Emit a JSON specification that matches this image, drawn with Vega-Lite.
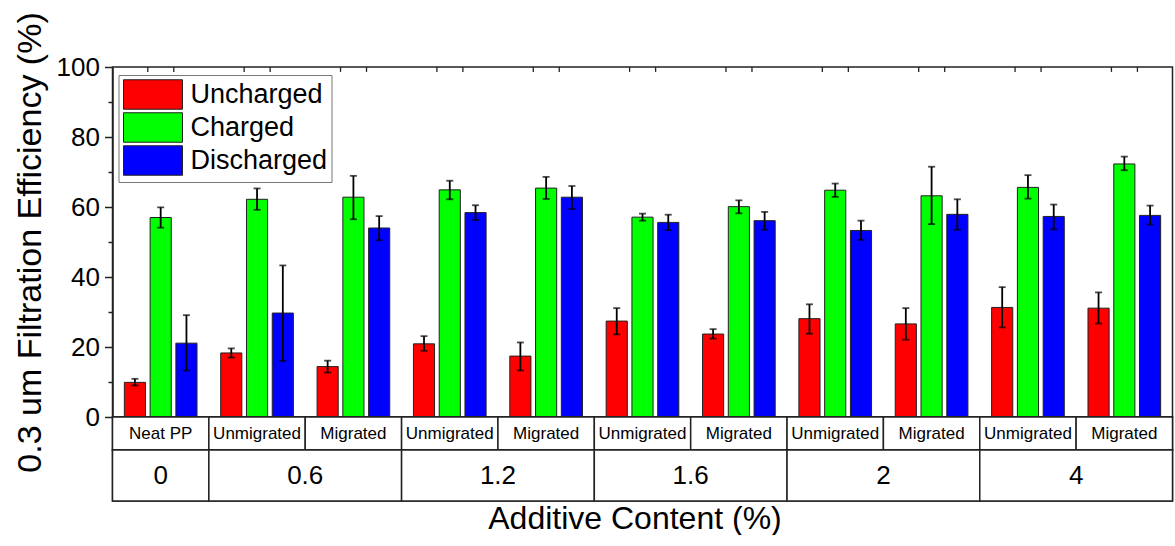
{
  "$schema": "https://vega.github.io/schema/vega-lite/v6.json",
  "autosize": {"type": "pad"},
  "padding": {"left": 11.5, "top": 11, "right": 3, "bottom": 0},
  "background": "white",
  "spacing": 0,
  "bounds": "flush",
  "datasets": {
    "bars": [
      {"g": 1, "series": "Uncharged", "value": 9.9, "lo": 9.0, "hi": 10.9},
      {"g": 1, "series": "Charged", "value": 57.0, "lo": 54.1, "hi": 59.9},
      {"g": 1, "series": "Discharged", "value": 21.1, "lo": 13.3, "hi": 29.1},
      {"g": 2, "series": "Uncharged", "value": 18.3, "lo": 17.0, "hi": 19.6},
      {"g": 2, "series": "Charged", "value": 62.2, "lo": 59.2, "hi": 65.3},
      {"g": 2, "series": "Discharged", "value": 29.7, "lo": 16.0, "hi": 43.3},
      {"g": 3, "series": "Uncharged", "value": 14.4, "lo": 12.7, "hi": 16.1},
      {"g": 3, "series": "Charged", "value": 62.8, "lo": 56.5, "hi": 68.9},
      {"g": 3, "series": "Discharged", "value": 54.0, "lo": 50.5, "hi": 57.4},
      {"g": 4, "series": "Uncharged", "value": 20.9, "lo": 18.9, "hi": 23.1},
      {"g": 4, "series": "Charged", "value": 64.9, "lo": 62.2, "hi": 67.5},
      {"g": 4, "series": "Discharged", "value": 58.4, "lo": 56.3, "hi": 60.5},
      {"g": 5, "series": "Uncharged", "value": 17.4, "lo": 13.3, "hi": 21.3},
      {"g": 5, "series": "Charged", "value": 65.4, "lo": 62.3, "hi": 68.6},
      {"g": 5, "series": "Discharged", "value": 62.8, "lo": 59.4, "hi": 66.0},
      {"g": 6, "series": "Uncharged", "value": 27.4, "lo": 23.6, "hi": 31.1},
      {"g": 6, "series": "Charged", "value": 57.1, "lo": 56.1, "hi": 58.1},
      {"g": 6, "series": "Discharged", "value": 55.6, "lo": 53.4, "hi": 57.8},
      {"g": 7, "series": "Uncharged", "value": 23.7, "lo": 22.4, "hi": 25.1},
      {"g": 7, "series": "Charged", "value": 60.1, "lo": 58.2, "hi": 61.9},
      {"g": 7, "series": "Discharged", "value": 56.1, "lo": 53.5, "hi": 58.6},
      {"g": 8, "series": "Uncharged", "value": 28.1, "lo": 23.8, "hi": 32.2},
      {"g": 8, "series": "Charged", "value": 64.8, "lo": 62.9, "hi": 66.7},
      {"g": 8, "series": "Discharged", "value": 53.3, "lo": 50.6, "hi": 56.1},
      {"g": 9, "series": "Uncharged", "value": 26.6, "lo": 22.1, "hi": 31.1},
      {"g": 9, "series": "Charged", "value": 63.2, "lo": 55.1, "hi": 71.5},
      {"g": 9, "series": "Discharged", "value": 57.9, "lo": 53.5, "hi": 62.2},
      {"g": 10, "series": "Uncharged", "value": 31.3, "lo": 25.6, "hi": 37.1},
      {"g": 10, "series": "Charged", "value": 65.6, "lo": 62.4, "hi": 69.1},
      {"g": 10, "series": "Discharged", "value": 57.3, "lo": 53.6, "hi": 60.7},
      {"g": 11, "series": "Uncharged", "value": 31.1, "lo": 26.7, "hi": 35.6},
      {"g": 11, "series": "Charged", "value": 72.3, "lo": 70.5, "hi": 74.4},
      {"g": 11, "series": "Discharged", "value": 57.6, "lo": 55.0, "hi": 60.4}
    ],
    "groups": [
      {"g": 1, "sub": "Neat PP"},
      {"g": 2, "sub": "Unmigrated"},
      {"g": 3, "sub": "Migrated"},
      {"g": 4, "sub": "Unmigrated"},
      {"g": 5, "sub": "Migrated"},
      {"g": 6, "sub": "Unmigrated"},
      {"g": 7, "sub": "Migrated"},
      {"g": 8, "sub": "Unmigrated"},
      {"g": 9, "sub": "Migrated"},
      {"g": 10, "sub": "Unmigrated"},
      {"g": 11, "sub": "Migrated"}
    ],
    "contents": [
      {"content": "0", "start": 0, "end": 1, "mid": 0.5},
      {"content": "0.6", "start": 1, "end": 3, "mid": 2},
      {"content": "1.2", "start": 3, "end": 5, "mid": 4},
      {"content": "1.6", "start": 5, "end": 7, "mid": 6},
      {"content": "2", "start": 7, "end": 9, "mid": 8},
      {"content": "4", "start": 9, "end": 11, "mid": 10}
    ]
  },
  "vconcat": [
    {
      "width": 1060,
      "height": 350,
      "data": {"name": "bars"},
      "layer": [
        {
          "mark": {"type": "bar", "stroke": "#222222", "strokeWidth": 1},
          "encoding": {
            "x": {"field": "g", "type": "ordinal", "axis": null, "scale": {"paddingInner": 0, "paddingOuter": 0}},
            "xOffset": {"field": "series", "type": "nominal", "scale": {"domain": ["Uncharged", "Charged", "Discharged"], "paddingInner": 0.18, "paddingOuter": 0.46}},
            "y": {
              "field": "value", "type": "quantitative",
              "scale": {"domain": [0, 100], "nice": false},
              "axis": {
                "values": [0, 20, 40, 60, 80, 100],
                "orient": "left",
                "tickSize": 8, "tickWidth": 1.5, "domainWidth": 1.5,
                "labelFontSize": 26, "labelPadding": 5,
                "title": "0.3 um Filtration Efficiency (%)",
                "titleFontSize": 34, "titlePadding": 9
              }
            },
            "color": {
              "field": "series", "type": "nominal",
              "scale": {"domain": ["Uncharged", "Charged", "Discharged"], "range": ["#ff0000", "#00ff00", "#0000ff"]},
              "legend": {
                "orient": "none", "legendX": 6, "legendY": 8,
                "title": null,
                "symbolType": "M-2,-1H2V1H-2Z",
                "symbolSize": 870,
                "symbolStrokeColor": "#222222", "symbolStrokeWidth": 1,
                "symbolOffset": 15,
                "labelFontSize": 27, "labelOffset": 22, "labelLimit": 0,
                "labelColor": "black",
                "rowPadding": -2.5,
                "padding": 4,
                "strokeColor": "#777777",
                "fillColor": "white"
              }
            }
          }
        },
        {
          "mark": {"type": "rule", "strokeWidth": 1.8, "color": "black"},
          "encoding": {
            "x": {"field": "g", "type": "ordinal", "axis": null},
            "xOffset": {"field": "series", "type": "nominal"},
            "y": {
              "field": "lo", "type": "quantitative",
              "axis": {"orient": "left", "values": [10, 30, 50, 70, 90], "labels": false, "domain": false, "tickSize": 4.5, "tickWidth": 1.5, "title": null}
            },
            "y2": {"field": "hi"}
          }
        },
        {
          "mark": {"type": "tick", "size": 7, "thickness": 1.8, "color": "black", "orient": "horizontal"},
          "encoding": {
            "x": {"field": "g", "type": "ordinal", "axis": null},
            "xOffset": {"field": "series", "type": "nominal"},
            "y": {"field": "lo", "type": "quantitative", "axis": null}
          }
        },
        {
          "mark": {"type": "tick", "size": 7, "thickness": 1.8, "color": "black", "orient": "horizontal"},
          "encoding": {
            "x": {"field": "g", "type": "ordinal", "axis": null},
            "xOffset": {"field": "series", "type": "nominal"},
            "y": {"field": "hi", "type": "quantitative", "axis": null}
          }
        },
        {
          "data": {"name": "groups"},
          "mark": {"type": "rule", "strokeWidth": 1.3, "color": "#222222"},
          "encoding": {
            "x": {"field": "g", "type": "ordinal", "axis": null, "bandPosition": 0.3663},
            "y": {"datum": 100, "type": "quantitative", "axis": null},
            "y2": {"datum": 98.6}
          }
        },
        {
          "data": {"name": "groups"},
          "mark": {"type": "rule", "strokeWidth": 1.3, "color": "#222222"},
          "encoding": {
            "x": {"field": "g", "type": "ordinal", "axis": null, "bandPosition": 0.636},
            "y": {"datum": 100, "type": "quantitative", "axis": null},
            "y2": {"datum": 98.6}
          }
        }
      ],
      "resolve": {"axis": {"y": "independent"}}
    },
    {
      "width": 1060,
      "height": 33,
      "data": {"name": "groups"},
      "layer": [
        {
          "mark": {"type": "rect", "fill": "white", "stroke": "#222222", "strokeWidth": 1.5},
          "encoding": {
            "x": {"field": "g", "type": "ordinal", "axis": null, "scale": {"paddingInner": 0, "paddingOuter": 0}}
          }
        },
        {
          "mark": {"type": "text", "fontSize": 17, "color": "black", "baseline": "middle"},
          "encoding": {
            "x": {"field": "g", "type": "ordinal", "axis": null},
            "text": {"field": "sub"}
          }
        }
      ]
    },
    {
      "width": 1060,
      "height": 51,
      "data": {"name": "contents"},
      "layer": [
        {
          "mark": {"type": "rect", "fill": "white", "stroke": "#222222", "strokeWidth": 1.5},
          "encoding": {
            "x": {
              "field": "start", "type": "quantitative",
              "scale": {"domain": [0, 11], "nice": false, "zero": false},
              "axis": {"labels": false, "ticks": false, "domain": false, "grid": false, "title": "Additive Content (%)", "titleFontSize": 32, "titlePadding": 2, "titleX": 522}
            },
            "x2": {"field": "end"}
          }
        },
        {
          "mark": {"type": "text", "fontSize": 26, "color": "black", "baseline": "middle"},
          "encoding": {
            "x": {"field": "mid", "type": "quantitative"},
            "text": {"field": "content"}
          }
        }
      ]
    }
  ],
  "config": {
    "font": "Liberation Sans",
    "view": {"stroke": "#222222", "strokeWidth": 1.5},
    "axis": {"domainColor": "#222222", "tickColor": "#222222", "labelColor": "black", "titleColor": "black", "titleFontWeight": "normal", "grid": false, "labelFont": "Liberation Sans", "titleFont": "Liberation Sans"},
    "legend": {"labelFont": "Liberation Sans"}
  }
}
